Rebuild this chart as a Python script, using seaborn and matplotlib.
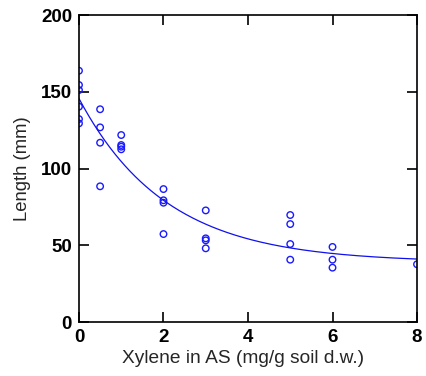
import numpy as np
import pandas as pd
import matplotlib
matplotlib.use("Agg")
import matplotlib.pyplot as plt
import seaborn as sns

# Data
xylene = [0, 0, 0, 0, 0, 0,
          0.5, 0.5, 0.5, 0.5,
          1, 1, 1, 1,
          2, 2, 2, 2,
          3, 3, 3, 3,
          5, 5, 5, 5,
          6, 6, 6,
          8]
length = [163.7, 154.4, 151.1, 140.3, 132.2, 129.4,
          138.6, 126.8, 116.8, 88.4,
          121.8, 115.3, 114.2, 112.5,
          86.6, 79.3, 77.7, 57.3,
          72.7, 54.5, 53.2, 48.0,
          69.7, 63.8, 50.8, 40.6,
          48.9, 40.6, 35.4,
          37.6]
x_ticks = [0, 2, 4, 6, 8]
y_ticks = [0, 50, 100, 150, 200]

df = pd.DataFrame({"x": xylene, "y": length})

# Exponential decay fit y = a + b*exp(-k x), via grid over k + linear LS
xa = np.array(xylene, float)
ya = np.array(length, float)
best = None
for k in np.linspace(0.05, 2.0, 1951):
    A = np.column_stack([np.ones_like(xa), np.exp(-k * xa)])
    coef, *_ = np.linalg.lstsq(A, ya, rcond=None)
    sse = np.sum((A @ coef - ya) ** 2)
    if best is None or sse < best[0]:
        best = (sse, k, coef)
_, k, (a, b) = best
xf = np.linspace(0, 8, 200)
fit = pd.DataFrame({"x": xf, "y": a + b * np.exp(-k * xf)})

sns.set_style("ticks")
plt.rcParams["font.family"] = ["Liberation Sans", "DejaVu Sans"]

fig = plt.figure(figsize=(4.26, 3.76), dpi=100)
ax = fig.add_axes([0.1854, 0.1436, 0.7935, 0.8165])

sns.lineplot(data=fit, x="x", y="y", ax=ax, color="#1010ee", linewidth=0.9)
sns.scatterplot(data=df, x="x", y="y", ax=ax, marker="o", s=22,
                facecolor="none", edgecolor="#1a1aff", linewidth=1.0)

ax.set_xlim(0, 8)
ax.set_ylim(0, 200)
ax.set_xticks(x_ticks)
ax.set_yticks(y_ticks)
ax.tick_params(direction="in", length=7, width=1.2, top=True, right=True,
               labelsize=13.5, colors="black", pad=5)
for lab in ax.get_xticklabels() + ax.get_yticklabels():
    lab.set_fontweight("bold")
for s in ax.spines.values():
    s.set_linewidth(1.2)
    s.set_color("black")
ax.set_xlabel("Xylene in AS (mg/g soil d.w.)", fontsize=13.8)
ax.set_ylabel("Length (mm)", fontsize=13.3)
ax.xaxis.set_label_coords(0.484, -0.091)
ax.yaxis.set_label_coords(-0.142, 0.5)

fig.savefig("out.png", dpi=100)
